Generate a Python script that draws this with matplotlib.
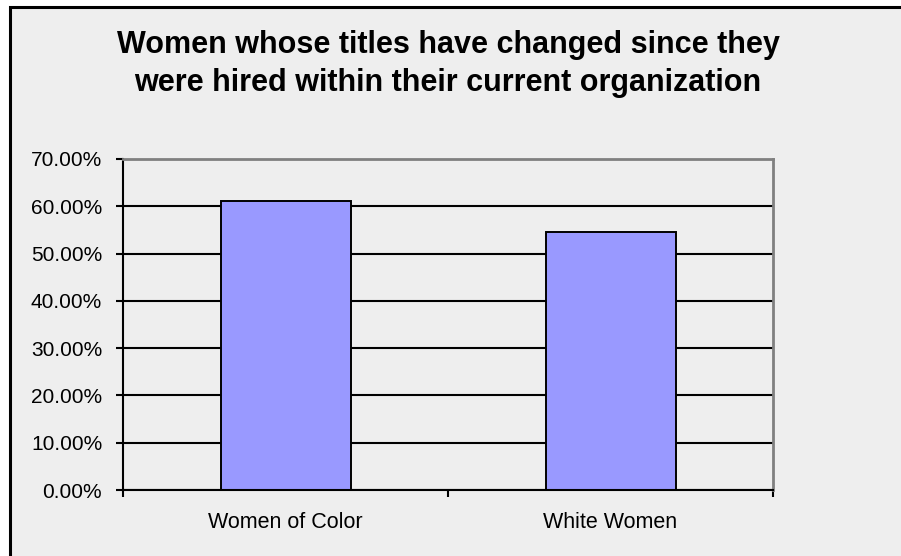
import matplotlib.pyplot as plt
from matplotlib.patches import Rectangle
from matplotlib.ticker import PercentFormatter

categories = ["Women of Color", "White Women"]
shares = [61.1, 54.6]
y_ticks = [0, 10, 20, 30, 40, 50, 60, 70]

plt.rcParams['font.family'] = ['Liberation Sans', 'DejaVu Sans']

W, H = 901, 556
fig = plt.figure(figsize=(W / 100, H / 100), dpi=100)
fig.patch.set_facecolor("white")

# grey chart frame, running off the right and bottom edge
fig.patches.append(Rectangle((10 / W, -0.05), 1.0, 1 - 7 / H + 0.05,
                             transform=fig.transFigure, facecolor="#eeeeee",
                             edgecolor="black", linewidth=2.2, zorder=-1))

ax = fig.add_axes([123 / W, 1 - 490 / H, 650 / W, 331 / H])
ax.set_facecolor("#eeeeee")

x = range(len(categories))
ax.bar(x, shares, width=0.4, color="#9999ff", edgecolor="black",
       linewidth=1.4, zorder=3)

ax.set_xlim(-0.5, len(categories) - 0.5)
ax.set_ylim(0, 70)
ax.set_yticks(y_ticks)
ax.yaxis.set_major_formatter(PercentFormatter(decimals=2))
ax.yaxis.grid(True, color="black", linewidth=1.5, zorder=1)
ax.set_axisbelow(True)

ax.set_xticks(list(x))
ax.set_xticklabels(categories)
ax.set_xticks([-0.5, 0.5, 1.5], minor=True)
ax.tick_params(axis="x", which="major", length=0, pad=16, labelsize=15.5)
ax.tick_params(axis="x", which="minor", length=5, width=1.5, direction="out")
ax.tick_params(axis="y", length=5, width=1.5, direction="out", pad=10,
               labelsize=15)

for side in ("top", "right"):
    ax.spines[side].set_color("#808080")
    ax.spines[side].set_linewidth(2)
for side in ("left", "bottom"):
    ax.spines[side].set_color("black")
    ax.spines[side].set_linewidth(1.5)
ax.spines["bottom"].set_zorder(4)

fig.text(448 / W, 1 - 64 / H,
         "Women whose titles have changed since they\n"
         "were hired within their current organization",
         ha="center", va="center", fontsize=22, fontweight="bold",
         linespacing=1.33)

fig.savefig("out.png", dpi=100)
